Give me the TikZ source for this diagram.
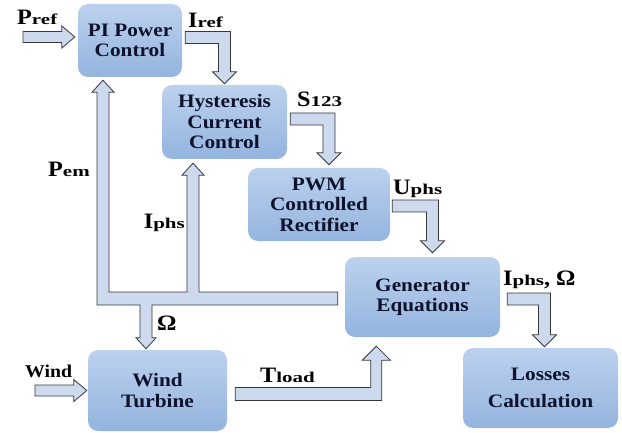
\documentclass[tikz,border=0pt]{standalone}
\usepackage{fontspec}
\setmainfont{Liberation Serif}
\newfontfamily\boxfont{Liberation Serif}[FakeStretch=1.12]
\newfontfamily\labfont{Liberation Serif}[FakeStretch=1.1]
\newfontfamily\subfont{Liberation Serif}[FakeStretch=1.4]
\usetikzlibrary{calc}
\definecolor{boxtop}{RGB}{188,209,238}
\definecolor{boxbot}{RGB}{148,180,222}
\definecolor{arrfill}{RGB}{205,218,238}
\definecolor{arrline}{RGB}{55,55,60}
\definecolor{boxtext}{RGB}{15,18,45}
\newcommand\biglab[2]{{\labfont\bfseries\fontsize{22}{24}\selectfont #1}{\subfont\bfseries\fontsize{15}{17}\selectfont #2}}
\newcommand\bigsym[1]{{\labfont\bfseries\fontsize{22}{24}\selectfont #1}}
% straight fat arrow, left to right
\newcommand\fatH[2]{\path[fat] let \p1=(#1), \p2=(#2) in
  (\x1,\y1+5.5pt) -- (\x2-13pt,\y1+5.5pt) -- (\x2-13pt,\y1+11pt) -- (\x2,\y1)
  -- (\x2-13pt,\y1-11pt) -- (\x2-13pt,\y1-5.5pt) -- (\x1,\y1-5.5pt) -- cycle;}
% fat elbow arrow: right, then down
\newcommand\fatRD[2]{\path[fat] let \p1=(#1), \p2=(#2) in
  (\x1,\y1+6pt) -- (\x2+6pt,\y1+6pt) -- (\x2+6pt,\y2+12pt) -- (\x2+12pt,\y2+12pt)
  -- (\x2,\y2) -- (\x2-12pt,\y2+12pt) -- (\x2-6pt,\y2+12pt) -- (\x2-6pt,\y1-6pt)
  -- (\x1,\y1-6pt) -- cycle;}
% fat elbow arrow: right, then up
\newcommand\fatRU[2]{\path[fat] let \p1=(#1), \p2=(#2) in
  (\x1,\y1-6.5pt) -- (\x2+5.5pt,\y1-6.5pt) -- (\x2+5.5pt,\y2-14pt) -- (\x2+14pt,\y2-14pt)
  -- (\x2,\y2) -- (\x2-14pt,\y2-14pt) -- (\x2-5.5pt,\y2-14pt) -- (\x2-5.5pt,\y1+6.5pt)
  -- (\x1,\y1+6.5pt) -- cycle;}
\begin{document}
\begin{tikzpicture}[x=1pt,y=1pt,
  block/.style={rounded corners=10pt, top color=boxtop, bottom color=boxbot,
    draw=none, align=center, text=boxtext, inner sep=0pt,
    font=\boxfont\bfseries\fontsize{19}{20.5}\selectfont},
  fat/.style={fill=arrfill, draw=arrline, line width=0.8pt, line join=miter},
  lab/.style={inner sep=0pt, text=black}]
\useasboundingbox (0,0) rectangle (622,432);

% blocks
\node[block, minimum width=104pt, minimum height=73pt] (pi) at (130,391.5) {PI Power\\Control};
\node[block, minimum width=125pt, minimum height=74pt] (hyst) at (224.5,310) {Hysteresis\\Current\\Control};
\node[block, minimum width=142pt, minimum height=73pt] (pwm) at (319,227.5) {PWM\\Controlled\\Rectifier};
\node[block, minimum width=155pt, minimum height=80pt] (gen) at (422.5,135) {Generator\\Equations};
\node[block, minimum width=155pt, minimum height=80pt] (loss) at (540.5,44) {Losses\\[6pt]Calculation};
\node[block, minimum width=139pt, minimum height=81pt] (wind) at (157.5,41.5) {Wind\\Turbine};

% connector end points
\coordinate (prefA) at (23,395);
\coordinate (prefB) at ($(pi.west)+(-3,3.5)$);
\coordinate (irefA) at ($(pi.east)+(3,3)$);
\coordinate (irefB) at ($(hyst.north)+(0,1)$);
\coordinate (sA) at ($(hyst.east)+(3,3)$);
\coordinate (sB) at ($(pwm.north)+(10,3)$);
\coordinate (uA) at ($(pwm.east)+(2,-1.5)$);
\coordinate (uB) at ($(gen.north)+(10,4)$);
\coordinate (oA) at ($(gen.east)+(7,-2)$);
\coordinate (oB) at ($(loss.north)+(4,1)$);
\coordinate (tA) at ($(wind.east)+(8,-3.5)$);
\coordinate (tB) at ($(gen.south west)+(31.5,-9)$);
\coordinate (wA) at (35,41.5);
\coordinate (wB) at ($(wind.west)+(-1,0)$);
\coordinate (nG) at ($(gen.west)+(-7,-1.5)$);
\coordinate (nP) at ($(pi.south)+(-27,-3)$);
\coordinate (nH) at ($(hyst.south)+(-31.5,-4)$);
\coordinate (nW) at ($(wind.north)+(-11.5,1)$);

% connectors
\fatH{prefA}{prefB}
\fatRD{irefA}{irefB}
\fatRD{sA}{sB}
\fatRD{uA}{uB}
\fatRD{oA}{oB}
\fatRU{tA}{tB}
\fatH{wA}{wB}
\path[fat] let \p1=(nG), \p2=(nP), \p3=(nH), \p4=(nW) in
  (\x2-6pt,\y1-6.5pt) -- (\x2-6pt,\y2-12pt) -- (\x2-11pt,\y2-12pt) -- (\x2,\y2)
  -- (\x2+11pt,\y2-12pt) -- (\x2+6pt,\y2-12pt) -- (\x2+6pt,\y1+6.5pt)
  -- (\x3-6pt,\y1+6.5pt) -- (\x3-6pt,\y3-12pt) -- (\x3-11pt,\y3-12pt) -- (\x3,\y3)
  -- (\x3+11pt,\y3-12pt) -- (\x3+6pt,\y3-12pt) -- (\x3+6pt,\y1+6.5pt)
  -- (\x1,\y1+6.5pt) -- (\x1,\y1-6.5pt)
  -- (\x4+6pt,\y1-6.5pt) -- (\x4+6pt,\y4+11pt) -- (\x4+10pt,\y4+11pt) -- (\x4,\y4)
  -- (\x4-10pt,\y4+11pt) -- (\x4-6pt,\y4+11pt) -- (\x4-6pt,\y1-6.5pt) -- cycle;

% labels
\node[lab, anchor=base west] (lpref) at (17,407) {\biglab{P}{ref}};
\node[lab, anchor=base west] (liref) at (188,404) {\biglab{I}{ref}};
\node[lab, anchor=base west] (lpem) at (48,255) {\biglab{P}{em}};
\node[lab, anchor=base east] (liphs) at (185,204) {\biglab{I}{phs}};
\node[lab, anchor=base west] (lomega) at (157,102) {\bigsym{Ω}};
\node[lab, anchor=base west] (ls) at (297,325) {\biglab{S}{123}};
\node[lab, anchor=base west] (luphs) at (393,237) {\biglab{U}{phs}};
\node[lab, anchor=base west] (lout) at (503,147) {\biglab{I}{phs}\bigsym{, Ω}};
\node[lab, anchor=base west] (lwind) at (25,55) {{\labfont\bfseries\fontsize{18}{20}\selectfont Wind}};
\node[lab, anchor=base west] (ltload) at (260,50) {\biglab{T}{load}};
\end{tikzpicture}
\end{document}
